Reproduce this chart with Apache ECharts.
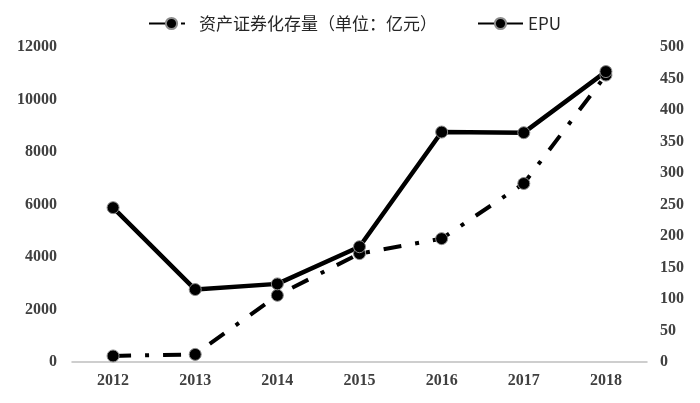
<!DOCTYPE html>
<html>
<head>
<meta charset="utf-8">
<script src="https://cdn.jsdelivr.net/npm/echarts@6/dist/echarts.min.js"></script>
<style>
  html, body { margin: 0; padding: 0; background: #fff; }
  #chart { width: 700px; height: 403px; }
</style>
</head>
<body>
<div id="chart"></div>
<script>
var years = ['2012', '2013', '2014', '2015', '2016', '2017', '2018'];
var absStock = [230, 290, 2540, 4130, 4700, 6800, 10930];
var epu = [245, 115, 124, 183, 365, 364, 461];

var labelFont = {
  fontFamily: 'Liberation Serif',
  fontWeight: 'bold',
  fontSize: 16,
  color: '#404040',
  formatter: function (v) { return String(v); }
};

var chart = echarts.init(document.getElementById('chart'));
chart.setOption({
  animation: false,
  backgroundColor: '#fff',
  legend: {
    left: 143,
    top: 10,
    itemWidth: 45,
    itemHeight: 14,
    itemGap: 40,
    textStyle: {
      fontFamily: 'Noto Sans CJK SC',
      fontSize: 17,
      color: '#262626'
    },
    data: ['资产证券化存量（单位：亿元）', 'EPU']
  },
  grid: {
    left: 72,
    right: 53,
    top: 47,
    bottom: 41
  },
  xAxis: {
    type: 'category',
    data: years,
    axisLine: { lineStyle: { color: '#bfbfbf', width: 1.5 } },
    axisTick: { show: false },
    axisLabel: Object.assign({}, labelFont, { margin: 11 })
  },
  yAxis: [{
    type: 'value',
    min: 0,
    max: 12000,
    interval: 2000,
    splitLine: { show: false },
    axisLine: { show: false },
    axisTick: { show: false },
    axisLabel: Object.assign({}, labelFont, { margin: 15 })
  }, {
    type: 'value',
    min: 0,
    max: 500,
    interval: 50,
    splitLine: { show: false },
    axisLine: { show: false },
    axisTick: { show: false },
    axisLabel: Object.assign({}, labelFont, { margin: 13 })
  }],
  series: [{
    name: '资产证券化存量（单位：亿元）',
    type: 'line',
    yAxisIndex: 0,
    data: absStock,
    symbol: 'circle',
    symbolSize: 12,
    lineStyle: { color: '#000', width: 4, type: [18, 14, 4, 14] },
    itemStyle: { color: '#000', borderColor: '#8c8c8c', borderWidth: 1 }
  }, {
    name: 'EPU',
    type: 'line',
    yAxisIndex: 1,
    data: epu,
    symbol: 'circle',
    symbolSize: 12,
    lineStyle: { color: '#000', width: 4.5 },
    itemStyle: { color: '#000', borderColor: '#8c8c8c', borderWidth: 1 }
  }]
});
</script>
</body>
</html>
